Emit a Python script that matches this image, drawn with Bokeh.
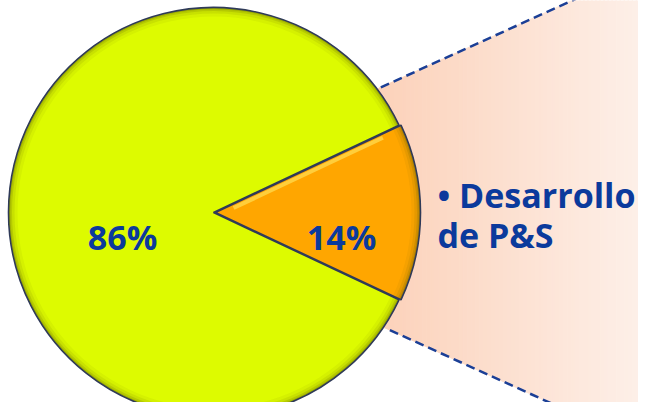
import numpy as np
from bokeh.plotting import figure
from bokeh.models import Range1d
from bokeh.core.properties import value
from bokeh.embed import file_html
from bokeh.resources import INLINE

# ---- data ----
categories = ["Resto", "Desarrollo de P&S"]
shares = [86, 14]
pct_labels = ["86%", "14%"]
callout_text = "• Desarrollo\nde P&S"

slice_colors = ["#DDFB00", "#FFA600"]
text_color = "#0B3A9C"

# ---- figure (1 data unit = 1 px; y up) ----
W, H = 638, 402
p = figure(width=W, height=H, x_range=Range1d(0, 638), y_range=Range1d(16, 418),
           output_backend="svg", toolbar_location=None, min_border=0)
p.axis.visible = False
p.grid.visible = False
p.outline_line_color = None
p.background_fill_color = "white"
p.border_fill_color = "white"

cx, cy, R = 213.0, 206.0, 205.0
total = float(sum(shares))
span = shares[1] / total * 2 * np.pi
half = span / 2

# ---- callout (gradient band between two dashed lines) ----
ang_dir = np.deg2rad(24.4)
up_start = (cx + 209 * np.cos(np.deg2rad(36.8)), cy + 209 * np.sin(np.deg2rad(36.8)))
lo_start = (cx + 212 * np.cos(np.deg2rad(-33.7)), cy + 212 * np.sin(np.deg2rad(-33.7)))

def y_up(x):
    return up_start[1] + (x - up_start[0]) * np.tan(ang_dir)

def y_lo(x):
    return lo_start[1] - (x - lo_start[0]) * np.tan(ang_dir)

c0 = np.array([252, 210, 186])
c1 = np.array([254, 242, 236])
edges = np.linspace(378, 660, 71)
xs, ys, cols = [], [], []
for i in range(len(edges) - 1):
    a, b = edges[i], edges[i + 1]
    xs.append([a, b, b, a])
    ys.append([y_up(a), y_up(b), y_lo(b), y_lo(a)])
    t = (0.5 * (a + b) - 378) / (660 - 378)
    c = (c0 + (c1 - c0) * t).astype(int)
    cols.append("#%02x%02x%02x" % tuple(c))
p.patches(xs, ys, fill_color=cols, line_color=cols, line_width=1)

p.line([up_start[0], 700], [y_up(up_start[0]), y_up(700)], line_color="#1B3F96",
       line_width=2.5, line_dash="9 5")
p.line([lo_start[0], 700], [y_lo(lo_start[0]), y_lo(700)], line_color="#1B3F96",
       line_width=2.5, line_dash="9 5")

# ---- pie ----
starts = [half, -half]
ends = [2 * np.pi - half, half]
offs = [(0.0, 0.0), (2.0, 0.0)]
for i in range(2):
    x0, y0 = cx + offs[i][0], cy + offs[i][1]
    p.wedge(x=x0, y=y0, radius=R, start_angle=starts[i], end_angle=ends[i],
            fill_color=slice_colors[i], line_color=None)
    # bevel shading near the rim
    for k, al in [(9, 0.06), (6, 0.10), (3.5, 0.16), (1.8, 0.25)]:
        p.annular_wedge(x=x0, y=y0, inner_radius=R - k, outer_radius=R,
                        start_angle=starts[i], end_angle=ends[i],
                        fill_color="#5A5A00", fill_alpha=al, line_color=None)
    p.wedge(x=x0, y=y0, radius=R, start_angle=starts[i], end_angle=ends[i],
            fill_color=None, line_color="#2F3A58", line_width=1.6)

# highlight along orange upper edge
p.line([cx + 2 + 20 * np.cos(half), cx + 2 + 185 * np.cos(half)],
       [cy - 4 + 20 * np.sin(half), cy - 4 + 185 * np.sin(half)],
       line_color="#FFD84A", line_width=4, line_alpha=0.8)

# ---- percentage labels ----
mids = [np.pi, 0.0]
lab_r = [91, 128]
lx = [cx + lab_r[i] * np.cos(mids[i]) for i in range(2)]
ly = [cy - 24 + lab_r[i] * np.sin(mids[i]) for i in range(2)]
p.text(x=lx, y=ly, text=pct_labels, text_font=value("Open Sans"),
       text_font_style="bold", text_font_size="34px", text_color=text_color,
       text_align="center", text_baseline="middle")

# ---- callout text ----
p.text(x=[437], y=[247], text=[callout_text], text_font=value("Open Sans"),
       text_font_style="bold", text_font_size="34px", text_color=text_color,
       text_align="left", text_baseline="top", text_line_height=0.87)

open("out.html", "w").write(file_html(p, INLINE))
